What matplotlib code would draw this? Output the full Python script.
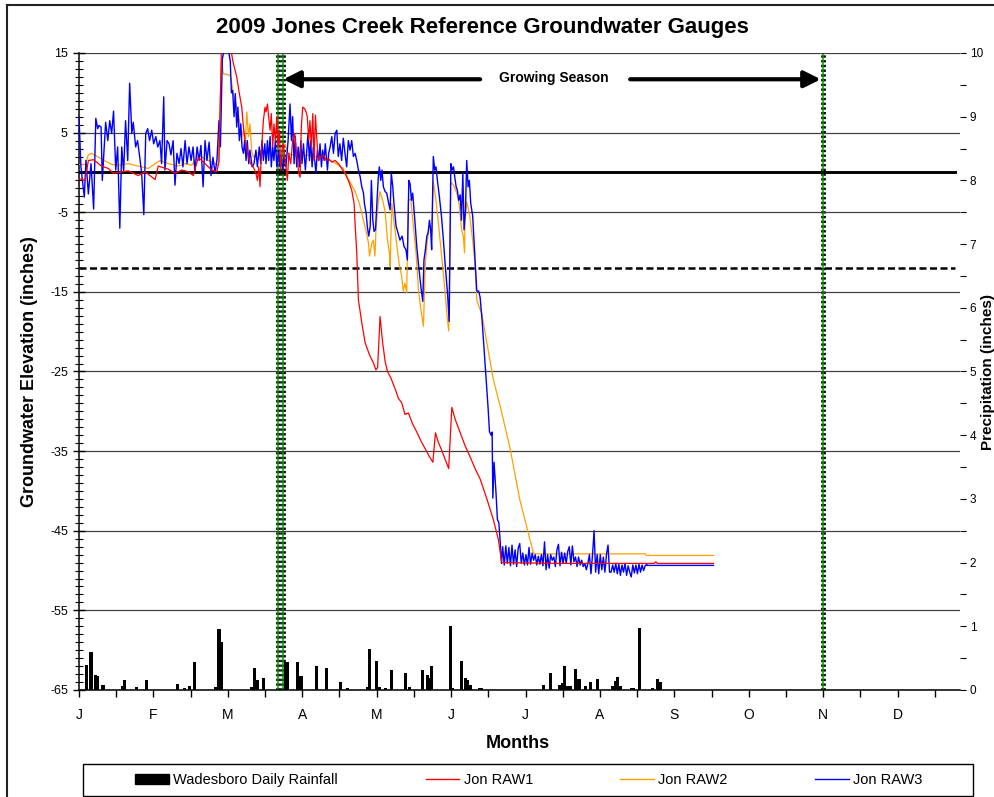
import numpy as np
import matplotlib.pyplot as plt
from matplotlib.lines import Line2D
from matplotlib.patches import Patch, Rectangle

plt.rcParams['font.family'] = ['Liberation Sans', 'DejaVu Sans']
plt.rcParams['axes.unicode_minus'] = False

# x axis is day of year 2009 (0 = Jan 1)
month_letters = ['J', 'F', 'M', 'A', 'M', 'J', 'J', 'A', 'S', 'O', 'N', 'D']
growing_season = [83.0, 84.9, 310.1]

# Wadesboro daily rainfall (inches)
rain_day = [3, 5, 6.7, 7.5, 10, 18, 19, 24, 28, 41, 44, 46, 48, 57, 58.3, 59.3,
            72, 73, 74.4, 77, 86, 86.8, 91, 92.5, 99, 103, 109, 112, 120, 121,
            124, 125, 127.5, 130, 136, 137.5, 143, 145, 146, 147, 154.6, 155.5,
            159.4, 161, 162, 163, 166.7, 167.8, 193.5, 196.4, 200, 201.6, 202.4,
            203.6, 204.6, 207, 208.3, 211, 213, 216, 222.4, 223.4, 224.4, 225.6,
            230, 231, 233.5, 239, 241, 242.4]
rain_in = [0.40, 0.59, 0.23, 0.22, 0.08, 0.07, 0.15, 0.04, 0.15, 0.09, 0.03, 0.06,
           0.44, 0.05, 0.96, 0.76, 0.05, 0.35, 0.16, 0.19, 0.44, 0.44, 0.44, 0.22,
           0.37, 0.35, 0.12, 0.03, 0.04, 0.64, 0.45, 0.05, 0.03, 0.31, 0.27, 0.04,
           0.31, 0.23, 0.19, 0.37, 1.0, 0.03, 0.45, 0.19, 0.16, 0.08, 0.03, 0.03,
           0.08, 0.27, 0.08, 0.11, 0.38, 0.07, 0.07, 0.33, 0.17, 0.07, 0.12, 0.18,
           0.07, 0.14, 0.21, 0.06, 0.03, 0.03, 0.98, 0.03, 0.18, 0.12]

# Jon RAW1 (inches)
raw1_day = [0.4, 2.5, 3.9, 6.0, 9.4, 12.2, 14.3, 16.4, 20.5, 24.7, 27.5, 31.7, 33.0,
            37.2, 40.0, 42.8, 45.5, 47.6, 49.7, 52.5, 55.3, 57.4, 58.3, 59.4, 61.0,
            62.5, 63.5, 64.3, 65.7, 66.8, 67.8, 68.5, 69.2, 69.9, 70.6, 71.5, 72.6,
            73.7, 74.3, 74.9, 75.4, 76.1, 76.8, 77.5, 77.9, 78.5, 79.0, 79.6, 80.1,
            80.7, 81.2, 81.8, 82.4, 82.9, 83.5, 84.0, 84.6, 85.1, 85.8, 86.8, 87.4,
            88.2, 89.0, 89.9, 90.4, 91.0, 91.5, 92.1, 92.6, 93.2, 94.0, 94.6, 95.1,
            95.7, 96.2, 96.8, 97.4, 97.9, 98.5, 99.0, 99.7, 100.7, 101.8, 102.9,
            104.0, 105.3, 106.7, 108.1, 109.4, 110.8, 112.2, 113.6, 114.6, 115.0,
            115.7, 116.4, 117.8, 119.2, 121.0, 122.6, 123.7, 124.4, 125.4, 126.5,
            127.5, 128.5, 129.9, 131.7, 133.1, 134.4, 135.8, 137.2, 139.0, 140.7,
            142.4, 144.2, 146.0, 147.4, 148.5, 149.7, 151.1, 152.5, 154.0, 155.3,
            156.7, 158.7, 160.8, 162.9, 165.0, 167.1, 169.9, 172.6, 174.7, 176.1,
            200.0, 239.5, 240.3, 241.0, 264.3]
raw1_val = [-0.8, -1.0, 1.5, 1.6, 0.8, 0.5, -0.1, 0.0, 0.2, -0.4, 0.1, -0.9, 0.8,
            0.4, -0.1, 0.3, 0.1, -0.4, 1.9, 1.1, 0.3, 0.1, 1.3, 16.5, 17.5,
            16.5, 15.0, 13.7, 12.0, 9.9, 8.2, 5.7, 4.0, 3.2, 1.9, 1.1, 0.7,
            -0.1, -1.0, 0.7, -1.8, 3.2, 6.5, 8.2, 7.6, 8.6, 7.0, 5.3, 7.4,
            3.2, 6.1, 4.0, 7.0, 3.2, 5.3, 0.3, 2.8, 3.6, 1.9, -1.0, 2.4,
            1.1, 4.0, 4.9, 2.8, 1.5, -0.1, -0.6, 5.7, 8.2, 8.0, 7.6, 7.0,
            4.0, 6.5, 3.2, 7.4, 1.5, 7.2, 4.5, 1.5, 1.9, 2.2, 1.5,
            1.7, 1.3, 1.5, 1.1, 0.5, -0.1, -1.0, -2.2, -3.9, -6.4,
            -10.1, -16.0, -18.9, -21.4, -22.9, -23.9, -24.8, -24.5, -18.1, -21.4,
            -23.7, -25.0, -25.8, -27.2, -28.4, -28.9, -30.4, -30.2, -31.6, -32.6,
            -33.7, -34.7, -35.7, -36.4, -32.7, -33.9, -34.9, -36.0, -37.2, -29.5,
            -31.0, -32.6, -34.3, -35.7, -37.2, -38.5, -41.0, -43.6, -46.1, -49.0,
            -49.1, -49.1, -48.9, -49.1, -49.1]

# Jon RAW2 (inches)
raw2_day = [0.0, 2.5, 3.9, 5.3, 9.4, 13.6, 16.4, 20.5, 24.7, 28.9, 33.7, 37.2,
            41.4, 44.2, 47.0, 49.7, 53.9, 58.0, 59.4, 60.1, 62.9, 63.3, 64.3, 65.7,
            67.1, 67.8, 68.5, 69.2, 69.9, 70.6, 71.2, 71.9, 72.6, 74.0, 75.4, 76.8,
            78.9, 81.0, 82.4, 84.4, 85.8, 87.2, 89.3, 92.1, 94.9, 97.6, 100.4,
            103.2, 106.0, 108.1, 110.1, 110.8, 112.9, 115.0, 116.8, 118.5, 119.6,
            120.6, 121.0, 122.0, 122.6, 123.3, 123.7, 124.7, 125.4, 126.5, 127.5,
            128.5, 129.3, 129.6, 130.3, 131.0, 131.8, 132.6, 133.5, 134.4, 135.1,
            135.8, 136.5, 137.2, 138.2, 139.3, 140.4, 141.4, 142.4, 143.5, 144.2,
            145.1, 146.0, 146.9, 147.6, 148.5, 149.3, 150.4, 151.5, 152.5, 153.2,
            154.0, 154.9, 156.0, 157.4, 158.5, 159.4, 160.1, 160.6, 160.8, 161.5,
            162.6, 164.0, 165.0, 165.7, 166.8, 167.8, 169.9, 172.6, 175.4, 179.6,
            183.7, 189.3, 190.7, 235.8, 236.3, 264.3]
raw2_val = [1.0, 1.0, 2.2, 2.4, 1.7, 1.0, 0.9, 1.1, 0.8, 0.5, 1.5, 1.1,
            0.8, 1.1, 0.9, 2.2, 1.5, 0.9, 14.2, 12.4, 12.2, 11.8, 9.9, 8.2,
            6.1, 4.5, 5.3, 3.2, 7.6, 4.5, 6.1, 2.8, 1.9, 2.4, 2.6, 2.8,
            2.4, 2.6, 2.2, 2.8, 3.6, 2.4, 2.2, 1.9, 2.2, 1.9, 2.2,
            1.7, 1.3, 0.9, 0.5, -0.1, -1.2, -2.4, -3.9, -6.0, -7.4,
            -8.9, -10.5, -8.9, -8.5, -10.5, -7.2, -3.7, -2.4, -3.5, -4.9,
            -8.5, -10.1, -11.8, -3.9, -5.8, -7.6, -9.7, -11.8, -13.0, -14.9,
            -13.9, -15.1, -3.5, -3.3, -6.8, -10.1, -14.7, -17.2, -19.3, -11.8,
            -8.5, -6.8, -7.6, -1.2, -3.0, -5.1, -8.5, -11.8, -15.1, -17.6,
            -19.9, -1.2, -1.6, -2.6, -4.3, -7.2, -8.0, -10.1, -6.0, -3.7,
            -5.1, -8.5, -11.8, -16.0, -17.0, -17.7, -21.4, -26.0, -29.3, -34.7,
            -41.2, -47.8, -47.9, -47.9, -48.1, -48.1]

# Jon RAW3 (inches)
raw3_day = [0.0, 0.8, 2.2, 2.9, 3.9, 5.0, 6.1, 7.0, 7.8, 8.3, 9.2, 9.7, 11.1, 12.0,
            12.8, 13.6, 14.4, 15.3, 16.1, 17.0, 17.8, 18.6, 19.4, 20.3, 21.1, 22.0,
            22.6, 23.6, 24.4, 25.3, 26.1, 27.0, 27.8, 28.6, 29.4, 30.3, 31.1, 32.0,
            32.8, 33.7, 34.4, 35.3, 35.8, 36.7, 37.5, 38.3, 39.2, 40.0, 40.8, 41.7,
            42.5, 43.3, 44.2, 45.0, 45.8, 46.7, 47.5, 48.3, 49.2, 50.0, 50.8, 51.7,
            52.5, 53.3, 54.2, 55.0, 55.8, 56.7, 57.5, 58.3, 58.9, 59.7, 60.8, 61.9,
            63.0, 63.5, 64.0, 64.6, 65.1, 65.7, 66.2, 66.8, 67.4, 67.9, 68.5, 69.0,
            69.6, 70.1, 70.7, 71.2, 72.1, 72.9, 73.7, 74.3, 75.1, 75.7, 76.2, 76.8,
            77.4, 77.9, 78.5, 79.0, 79.6, 80.1, 80.7, 81.2, 81.8, 82.4, 83.2, 83.7,
            84.3, 84.9, 85.4, 86.2, 87.1, 87.9, 88.5, 89.0, 89.6, 90.1, 90.7, 91.3,
            91.8, 92.4, 92.9, 93.5, 94.3, 94.9, 95.4, 96.0, 96.5, 97.1, 97.6, 98.2,
            98.7, 99.3, 99.9, 100.4, 101.0, 101.5, 102.1, 102.6, 103.5, 104.0, 104.6,
            105.3, 106.0, 106.7, 107.4, 108.0, 108.7, 109.4, 110.1, 110.8, 111.5,
            112.2, 112.9, 113.6, 114.3, 115.0, 115.7, 116.4, 117.1, 117.8, 118.5,
            118.9, 119.6, 120.1, 120.7, 121.3, 121.8, 122.4, 122.9, 123.5, 124.0,
            124.7, 125.1, 125.7, 126.2, 126.8, 127.5, 128.2, 129.0, 129.6, 130.1,
            130.7, 131.2, 132.1, 132.9, 133.7, 134.6, 135.4, 136.2, 136.8, 137.4,
            137.9, 138.5, 139.0, 139.9, 140.7, 141.5, 142.4, 143.2, 143.7, 144.3,
            144.9, 145.4, 146.0, 146.5, 146.9, 147.6, 148.2, 148.7, 149.3, 150.1,
            151.0, 151.8, 152.6, 153.5, 154.2, 154.9, 155.4, 156.0, 156.5, 157.1,
            157.6, 158.2, 158.8, 159.3, 159.9, 160.4, 161.0, 161.5, 162.1, 162.6,
            163.2, 164.0, 164.6, 165.1, 165.7, 166.5, 167.1, 167.9, 168.7, 169.6,
            170.4, 171.0, 171.7, 172.1, 172.4, 172.9, 173.7, 174.3, 174.9, 175.4,
            176.0]
raw3_val = [7.0, 0.7, -3.1, 1.5, -2.7, 1.1, -4.6, 6.8, 5.5, 5.9, 5.7, -1.0, 6.3, 4.0,
            6.5, 4.9, 7.7, 0.3, 3.2, -7.0, 3.2, 0.1, 6.5, 1.5, 11.2, 4.9,
            6.3, 3.2, 4.0, 1.9, -0.1, -5.3, 4.9, 5.5, 4.0, 5.3, 3.6, 4.5,
            3.2, 4.0, 1.1, 9.5, 0.3, 4.0, 3.6, 2.2, 4.0, -1.6, 2.4, 1.1,
            3.0, 0.7, 4.0, 1.1, 3.2, 1.5, 3.2, 0.1, 3.2, 1.5, 3.4, -1.8,
            4.0, 1.5, 3.8, -0.4, 1.9, -0.1, 1.7, 6.5, 3.2, 14.2, 16.0, 16.0,
            14.0, 10.0, 10.3, 7.0, 9.9, 5.7, 8.2, 4.0, 6.1, 3.2, 2.4, 4.0,
            1.5, 4.0, 1.1, 2.8, 0.7, 1.1, 2.8, 0.7, 3.2, 1.1, 4.0, 1.5,
            3.6, 1.1, 4.0, 1.5, 4.5, 0.7, 3.2, 1.5, 4.0, 0.7, 2.8, 0.7,
            1.5, 0.3, 1.9, 0.7, 4.0, 8.6, 4.0, 7.0, 1.1, 4.5, 0.7, 3.2,
            0.7, 4.0, 1.1, 3.6, 0.3, 2.8, 4.9, 1.5, 4.0, 0.7, 3.2, 1.5,
            -0.1, 2.8, 1.5, 3.6, 0.7, 2.8, 1.5, 3.6, 0.3, 2.4, 3.2,
            4.5, 2.4, 4.9, 5.3, 2.0, 3.6, 1.5, 4.3, 2.4, 0.7,
            4.0, 2.8, 4.0, 2.0, 2.4, 1.5, 0.3, -0.5, -1.8, -2.6,
            -3.9, -5.1, -6.8, -8.0, -6.8, -1.0, -6.0, -7.4, -7.2, -4.3,
            -0.5, 0.7, -1.0, 0.3, -1.8, -2.4, -2.6, -3.9, -4.7, -0.1,
            -1.8, -3.9, -6.8, -7.6, -8.5, -8.0, -9.3, -9.7, -11.0, -1.0,
            -1.4, -3.5, -2.6, -6.0, -9.3, -11.8, -14.3, -16.2, -11.0, -9.7,
            -8.0, -7.6, -6.0, -7.2, -9.7, 2.0, 0.3, 0.7, -1.0, -3.0,
            -5.5, -8.5, -11.8, -15.1, -18.7, 1.1, 0.3, 0.7, -0.5, -1.8,
            -2.2, -3.5, -2.8, -6.0, -0.1, -7.2, -4.7, 1.5, -1.8, -1.0,
            -3.9, -5.5, -8.9, -11.8, -14.9, -14.9, -15.7, -18.5, -22.0, -26.0,
            -29.5, -32.6, -33.0, -32.6, -40.9, -36.4, -40.2, -43.6, -44.0, -46.1,
            -49.1]
# logger bottomed out: readings roughly every 0.65 day from day 176.5 to 236.5
raw3_tail = [-47.0, -49.3, -46.9, -49.1, -47.1, -49.4, -46.8, -49.2, -47.4, -49.5,
             -47.2, -46.6, -49.1, -47.8, -49.3, -48.0, -49.3, -47.1, -49.2, -47.8,
             -48.7, -48.0, -49.3, -48.2, -49.2, -48.0, -49.4, -46.4, -49.9, -48.0,
             -49.7, -48.0, -48.7, -48.3, -49.5, -47.4, -46.7, -49.4, -47.7, -49.1,
             -47.8, -49.1, -47.6, -47.0, -49.3, -46.9, -48.9, -48.3, -49.5, -48.3,
             -49.3, -48.7, -49.5, -49.1, -49.9, -49.1, -48.0, -50.4, -48.0, -45.0,
             -50.2, -48.0, -50.4, -48.0, -49.9, -48.3, -50.2, -48.0, -46.8, -50.2,
             -50.2, -49.3, -50.2, -49.1, -50.4, -49.2, -50.6, -49.3, -50.2, -49.1,
             -50.6, -49.4, -50.2, -50.8, -49.3, -50.3, -49.3, -50.4, -49.2, -50.2,
             -49.3, -50.0, -49.4, -49.2]
raw3_flat_day = [236.5, 264.3]
raw3_flat_val = [-49.35, -49.35]

W, H = 995, 797
fig = plt.figure(figsize=(W / 100, H / 100), dpi=100)
ax = fig.add_axes([79 / W, 1 - 690 / H, 881 / W, 637 / H])
ax2 = ax.twinx()
ax.set_zorder(1)
ax.patch.set_visible(False)

# rainfall on the right axis
ax2.bar(rain_day, rain_in, width=1.3, color='black', zorder=2)
ax2.set_ylim(0, 10)
ax2.set_yticks(range(0, 11))
ax2.set_yticks(np.arange(0.5, 10, 1), minor=True)
ax2.tick_params(axis='y', which='both', direction='out', length=4, width=0.8,
                labelsize=8.5, pad=3)
for s in ax2.spines.values():
    s.set_visible(False)

# groundwater lines
tail_day = np.linspace(176.5, 236.5, len(raw3_tail))
ax.plot(raw2_day, raw2_val, color='#ffa000', lw=0.9, zorder=3)
ax.plot(raw3_day + list(tail_day) + raw3_flat_day,
        raw3_val + raw3_tail + raw3_flat_val, color='#0000ff', lw=1.0, zorder=4)
ax.plot(raw1_day, raw1_val, color='#ff0000', lw=0.9, zorder=5)

ax.plot([0, 365], [0, 0], color='black', lw=2.1, zorder=2)
ax.plot([0, 365], [-12, -12], color='black', lw=1.8, ls=(0, (2.8, 1.4)), zorder=2)

ax.set_xlim(0, 367)
ax.set_ylim(-65, 15)
ax.set_yticks(np.arange(-65, 16, 10))
ax.set_yticks(np.arange(-65, 16, 1), minor=True)
ax.yaxis.grid(True, which='major', color='#404040', lw=0.9, zorder=1)
ax.tick_params(axis='y', which='major', direction='inout', length=8, width=1,
               labelsize=9, pad=4)
ax.tick_params(axis='y', which='minor', direction='inout', length=6, width=0.8)

xt = np.arange(0, 365, 15.5)
ax.set_xticks(xt)
ax.set_xticklabels([month_letters[i // 2] if i % 2 == 0 else '' for i in range(len(xt))])
ax.tick_params(axis='x', direction='out', length=5, width=1, labelsize=10, pad=8)
ax.spines['top'].set_visible(False)
ax.spines['right'].set_visible(False)
ax.spines['left'].set_linewidth(1.1)
ax.spines['bottom'].set_linewidth(1.1)

# growing season markers
for d in growing_season:
    ax2.axvline(d, color='black', lw=3.4, ls=(0, (0.5, 0.5)), zorder=5)
    ax2.axvline(d, color='#00a000', lw=1.1, zorder=6)

arrow = dict(arrowstyle='-|>,head_length=0.5,head_width=0.25', lw=3,
             color='black', mutation_scale=20, shrinkA=0, shrinkB=0)
ax.annotate('', xy=(85.1, 11.7), xytext=(167.1, 11.7), arrowprops=arrow)
ax.annotate('', xy=(309.0, 11.7), xytext=(229.6, 11.7), arrowprops=arrow)
ax.text(197.7, 11.85, 'Growing Season', ha='center', va='center',
        fontsize=10, fontweight='bold')

fig.text(482 / W, 1 - 28 / H, '2009 Jones Creek Reference Groundwater Gauges',
         ha='center', va='center', fontsize=16, fontweight='bold')
fig.text(30 / W, 1 - 372 / H, 'Groundwater Elevation (inches)', rotation=90,
         ha='center', va='center', fontsize=13, fontweight='bold')
fig.text(988.5 / W, 1 - 372 / H, 'Precipitation (inches)', rotation=90,
         ha='center', va='center', fontsize=11, fontweight='bold')
fig.text(518 / W, 1 - 744 / H, 'Months', ha='center', va='center',
         fontsize=13, fontweight='bold')

handles = [Patch(facecolor='black', edgecolor='black'),
           Line2D([], [], color='#ff0000', lw=1),
           Line2D([], [], color='#ffa000', lw=1),
           Line2D([], [], color='#0000ff', lw=1)]
labels = ['Wadesboro Daily Rainfall', 'Jon RAW1', 'Jon RAW2', 'Jon RAW3']
fig.legend(handles, labels, loc='center', bbox_to_anchor=(529 / W, 1 - 780 / H),
           ncol=4, frameon=False, fontsize=10.5, handlelength=2.3,
           handletextpad=0.3, columnspacing=6.0)
fig.add_artist(Rectangle((83 / W, 1 - 796 / H), 890 / W, 32 / H, fill=False,
                         ec='black', lw=1, transform=fig.transFigure))

# outer chart border
fig.add_artist(Line2D([7 / W, 7 / W], [0, 1 - 5 / H], color='#222222', lw=1.5,
                      transform=fig.transFigure))
fig.add_artist(Line2D([7 / W, 1], [1 - 5 / H, 1 - 5 / H], color='#222222', lw=1.5,
                      transform=fig.transFigure))

fig.savefig('out.png', dpi=100)
